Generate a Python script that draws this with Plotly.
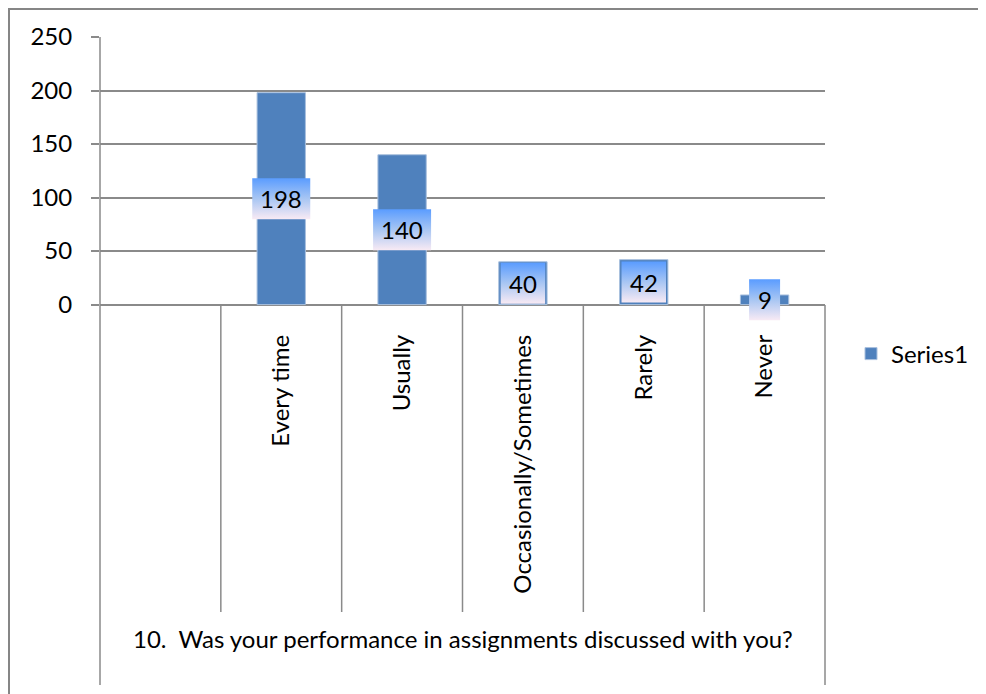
import plotly.graph_objects as go

categories = ["", "Every time", "Usually", "Occasionally/Sometimes", "Rarely", "Never"]
values = [None, 198, 140, 40, 42, 9]
series_name = "Series1"
y_ticks = [0, 50, 100, 150, 200, 250]
group_label = "10.  Was your performance in assignments discussed with you?"

OFF = 8                  # default body margin of the page
W, H = 986 - OFF, 694 - OFF
L, R = 100, 825          # plot area edges in page pixels (x)
T, B = 37, 326           # plot area edges in page pixels (y)
Y_MIN, Y_MAX = -20, 250
FONT = "Lato"
FS = 24
GRID = "#8a8a8a"
BAR = "#4F81BD"

px_per_unit = (B - T) / (Y_MAX - Y_MIN)
px_per_cat = (R - L) / len(categories)


def py(px):
    """page pixel row -> paper y"""
    return (B - px) / (B - T)


def pxx(px):
    """page pixel column -> paper x"""
    return (px - L) / (R - L)


xs = list(range(len(categories)))

fig = go.Figure()
fig.add_trace(go.Bar(
    x=xs, y=values, name=series_name,
    marker=dict(color=BAR, line=dict(color="#A9C0DE", width=1)),
    width=0.4, showlegend=True,
))

# gradient label boxes, centred on each bar
for x, v in zip(xs, values):
    if v is None:
        continue
    n = len(str(v))
    half_w = (31 + (n - 1) * 13.5) / 2 / px_per_cat
    half_h = 20.5 / px_per_unit
    cy = v / 2
    fig.add_trace(go.Scatter(
        x=[x - half_w, x + half_w, x + half_w, x - half_w, x - half_w],
        y=[cy - half_h, cy - half_h, cy + half_h, cy + half_h, cy - half_h],
        mode="lines", fill="toself", line=dict(width=0),
        fillgradient=dict(type="vertical",
                          colorscale=[[0, "#F8EAF4"], [0.5, "#A8C6F3"], [1, "#5A9CFF"]]),
        showlegend=False, hoverinfo="skip",
    ))
    fig.add_annotation(x=x, y=cy, text=str(v), showarrow=False,
                       font=dict(family=FONT, size=FS, color="black"))

shapes = []
# vertical axis line, full height
shapes.append(dict(type="line", xref="paper", yref="paper", x0=0, x1=0,
                   y0=1, y1=py(685), line=dict(color=GRID, width=1.5)))
# right boundary line
shapes.append(dict(type="line", xref="paper", yref="paper", x0=1, x1=1,
                   y0=py(305), y1=py(685), line=dict(color=GRID, width=1.5)))
# inner category separators
for i in range(1, len(categories)):
    xp = i / len(categories)
    shapes.append(dict(type="line", xref="paper", yref="paper", x0=xp, x1=xp,
                       y0=py(305), y1=py(612), line=dict(color=GRID, width=1.5)))
# outer chart border (left + top visible)
shapes.append(dict(type="rect", xref="paper", yref="paper",
                   x0=pxx(OFF + 1), x1=pxx(1000), y0=py(710), y1=py(OFF + 1),
                   line=dict(color="#868686", width=2), fillcolor="rgba(0,0,0,0)"))

fig.add_annotation(xref="paper", yref="paper", x=0.5, y=py(655),
                   text=group_label, showarrow=False,
                   font=dict(family=FONT, size=FS, color="black"))

fig.update_layout(
    width=W, height=H, autosize=False,
    margin=dict(l=L - OFF, r=W - (R - OFF), t=T - OFF, b=H - (B - OFF), pad=0),
    paper_bgcolor="white", plot_bgcolor="white",
    font=dict(family=FONT, size=FS, color="black"),
    shapes=shapes,
    showlegend=True,
    legend=dict(xref="container", yref="container",
                x=(851 - OFF) / W, y=1 - (354 - OFF) / H,
                xanchor="left", yanchor="middle",
                font=dict(family=FONT, size=FS), bgcolor="rgba(0,0,0,0)"),
    xaxis=dict(range=[-0.5, len(categories) - 0.5], tickmode="array",
               tickvals=xs, ticktext=categories, tickangle=-90,
               showgrid=False, zeroline=False, showline=False, ticks="",
               ticklabelstandoff=3, fixedrange=True),
    yaxis=dict(range=[Y_MIN, Y_MAX], tickmode="array", tickvals=y_ticks,
               showgrid=True, gridcolor=GRID, gridwidth=1.5,
               zeroline=True, zerolinecolor=GRID, zerolinewidth=1.5,
               showline=False, ticks="outside", ticklen=8, tickcolor=GRID,
               tickwidth=1.5, ticklabelstandoff=14, fixedrange=True),
)

fig.write_html("out.html", config={"responsive": False})
